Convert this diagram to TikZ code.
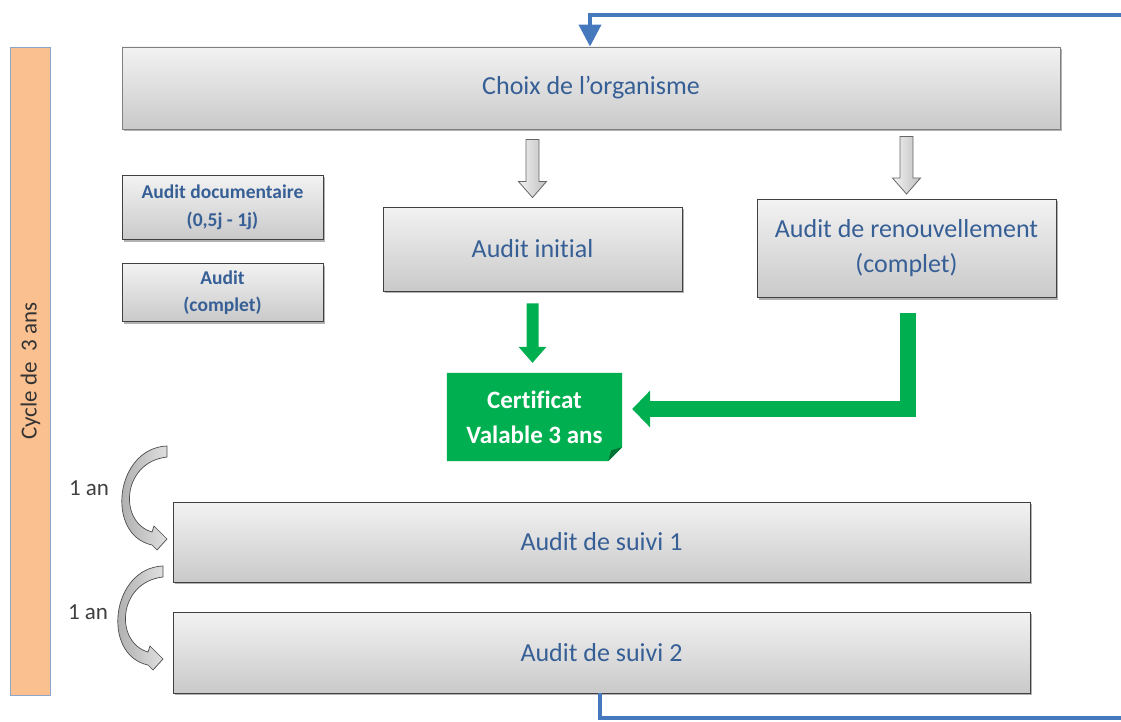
\documentclass[tikz,border=0pt]{standalone}
\usepackage{fontspec}
\setmainfont{Carlito}[Ligatures=CommonOff]
\usetikzlibrary{arrows.meta,calc,shadows,backgrounds}
\definecolor{txtblue}{RGB}{54,95,150}
\definecolor{certgreen}{RGB}{0,176,80}
\definecolor{loopblue}{RGB}{70,120,190}
\definecolor{barorange}{RGB}{250,192,144}
\definecolor{barline}{RGB}{140,165,200}
\newcommand\blockdown[5]{%
  \draw[#1] ($(#2)+(-#4,0)$) -- ($(#2)+(#4,0)$) -- ($(#3)+(#4,-16)$) -- ($(#3)+(#5,-16)$) -- (#3)
    -- ($(#3)+(-#5,-16)$) -- ($(#3)+(-#4,-16)$) -- cycle;}
\begin{document}
\begin{tikzpicture}[x=1pt,y=-1pt,
  auditbox/.style={draw=black!75, line width=0.9pt, top color=gray!10, bottom color=gray!42,
    text=txtblue, align=center, inner sep=0pt, font=\fontsize{26}{35}\selectfont,
    drop shadow={shadow xshift=2pt, shadow yshift=-2pt, opacity=0.3, fill=black}},
  smallbox/.style={auditbox, font=\bfseries\fontsize{19.5}{27.5}\selectfont},
  certbox/.style={minimum width=175pt, minimum height=88pt, inner sep=0pt, align=center,
    text=white, font=\bfseries\fontsize{25}{35}\selectfont},
  cyclebar/.style={rotate=90, fill=barorange, draw=barline, line width=0.8pt, inner sep=0pt,
    text=black!80, font=\fontsize{23}{28}\selectfont},
  anlbl/.style={text=black!75, font=\fontsize{23}{28}\selectfont, inner sep=0pt},
  greyblock/.style={draw=black!60, line width=0.8pt, left color=gray!10, right color=gray!50},
  greenblock/.style={fill=certgreen, draw=none},
  greenL/.style={draw=certgreen, line width=16pt, -{Triangle[length=18pt,width=36pt]}},
  loopline/.style={draw=loopblue, line width=4pt, -{Triangle[length=22pt,width=22pt]}},
  curvarrow/.pic={\draw[draw=black!70, line width=0.7pt, left color=gray!75, right color=gray!25]
    (0,0) .. controls (-52,2) and (-62,89) .. (-15,99) -- (-10,104) -- (0,93) -- (-13,80) -- (-15,86)
    .. controls (-49,76) and (-45,16) .. (0,11) -- cycle;}
]
\useasboundingbox (0,0) rectangle (1121,722);

% orange bar
\node[cyclebar, minimum width=648pt, minimum height=40pt] (cycle) at (30.5,371) {Cycle de\ \ 3 ans};

% boxes
\node[auditbox, draw=black!50, minimum width=938pt, minimum height=82pt] (choix) at (591,88) {Choix de l’organisme};
\node[smallbox, minimum width=201pt, minimum height=64pt] (doc) at (222.5,207.5) {Audit documentaire\\(0,5j - 1j)};
\node[smallbox, minimum width=201pt, minimum height=58pt] (auditc) at (222.5,292.5) {Audit\\(complet)};
\node[auditbox, minimum width=299pt, minimum height=84pt] (init) at (532.5,249) {Audit initial};
\node[auditbox, minimum width=299pt, minimum height=98pt] (renouv) at (906.5,248.5) {Audit de renouvellement\\(complet)};
\node[auditbox, minimum width=857pt, minimum height=80pt] (suivi1) at (601.5,542) {Audit de suivi 1};
\node[auditbox, minimum width=857pt, minimum height=81pt] (suivi2) at (601.5,652.5) {Audit de suivi 2};

% certificate with folded corner
\node[certbox] (cert) at (534.5,417) {Certificat\\Valable 3 ans};
\begin{scope}[on background layer]
  \fill[certgreen] (cert.north west) -- (cert.north east) -- ($(cert.south east)+(0,-14)$)
    -- ($(cert.south east)+(-14,0)$) -- (cert.south west) -- cycle;
  \fill[certgreen!65!black] ($(cert.south east)+(0,-14)$) -- ($(cert.south east)+(-14,0)$)
    -- ($(cert.south east)+(-11,-11)$) -- cycle;
\end{scope}

% grey block arrows
\coordinate (g1s) at ($(choix.south -| init.north)+(0,10)$);
\coordinate (g1e) at ($(init.north)+(0,-9)$);
\coordinate (g2s) at ($(choix.south -| renouv.north)+(0,7)$);
\coordinate (g2e) at ($(renouv.north)+(0,-5)$);
\blockdown{greyblock}{g1s}{g1e}{6.5}{14}
\blockdown{greyblock}{g2s}{g2e}{6.5}{14}

% green arrows
\coordinate (gs) at ($(init.south)+(0,12)$);
\coordinate (ge) at ($(cert.north -| init.south)+(0,-10)$);
\blockdown{greenblock}{gs}{ge}{6}{14}
\draw[greenL] ($(renouv.south)+(1.5,15)$) |- ($(cert.east)+(10,-8)$);

% blue loop
\draw[loopline] (suivi2.south -| 600,0) -- (600,718) -- (1140,718) -- (1140,15) -- (590,15) -- (choix.north -| 590,0);

% 1 an
\node[anlbl] (an1) at (89,488) {1 an};
\node[anlbl] (an2) at (88,612) {1 an};
\pic at (167,446) {curvarrow};
\pic at (163,566) {curvarrow};
\end{tikzpicture}
\end{document}
